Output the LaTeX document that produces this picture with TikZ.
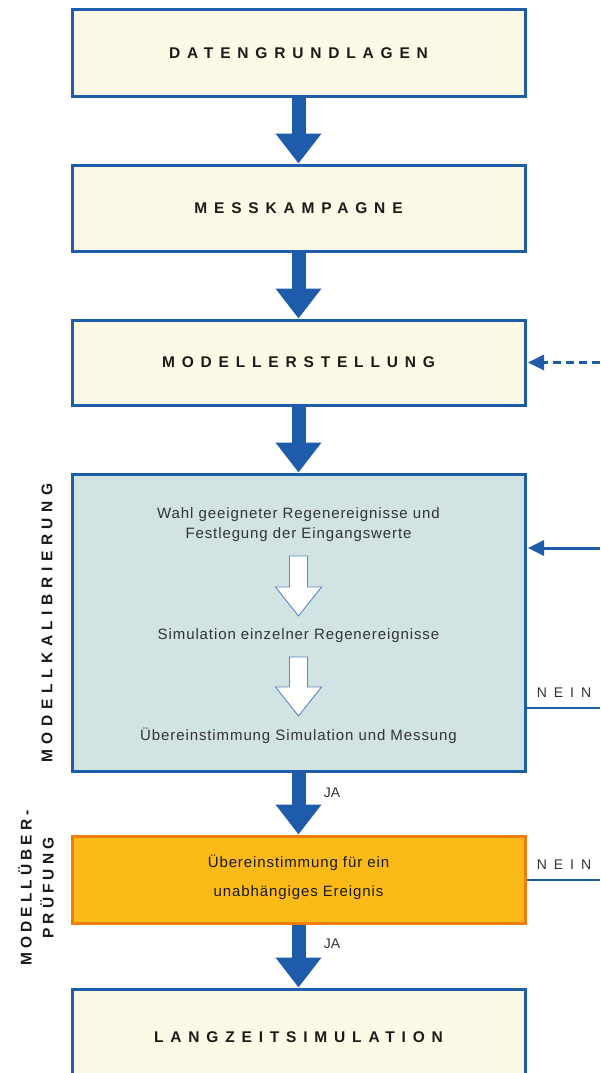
\documentclass[tikz,border=0pt]{standalone}
\usepackage{fontspec}
\setmainfont{Liberation Sans}
\newfontfamily\ttlfont[LetterSpace=44]{Liberation Sans}
\newfontfamily\sidefont[LetterSpace=36]{Liberation Sans}
\newfontfamily\sidefontb[LetterSpace=26]{Liberation Sans}
\newfontfamily\bodyfont[LetterSpace=6]{Liberation Sans}
\newfontfamily\neinfont[LetterSpace=50]{Liberation Sans}
\usetikzlibrary{arrows.meta}
\definecolor{bblue}{HTML}{1F5DAA}
\definecolor{ablue}{HTML}{1E5BAA}
\definecolor{cream}{HTML}{FCFAE6}
\definecolor{calib}{HTML}{D1E3E3}
\definecolor{ofill}{HTML}{FBBA18}
\definecolor{oline}{HTML}{EE7D0A}
\definecolor{hollow}{HTML}{5B85C8}
\definecolor{txt}{HTML}{1A1A1A}
\definecolor{btxt}{HTML}{333333}
\tikzset{
  box/.style={draw=bblue, line width=3pt, fill=cream, minimum width=453pt, inner sep=0pt},
  title/.style={font=\ttlfont\bfseries\fontsize{15.5}{17}\selectfont, text=txt},
  flow/.style={draw=ablue, line width=14pt, -{Triangle[width=44pt,length=30pt]}},
  side/.style={draw=ablue, line width=3pt, -{Triangle[width=15pt,length=16pt]}},
  body/.style={font=\bodyfont\fontsize{15}{20}\selectfont, text=btxt, align=center, inner sep=0pt},
  hollowarrow/.style={draw=hollow, line width=0.9pt, fill=white},
  sidelabel/.style={text=txt, rotate=90, align=center, inner sep=0pt},
  nein/.style={font=\neinfont\fontsize{14}{16}\selectfont, text=btxt, inner sep=0pt},
  ja/.style={font=\fontsize{14}{16}\selectfont, text=btxt, inner sep=0pt},
  neinline/.style={draw=ablue, line width=2.5pt}
}
\begin{document}
\begin{tikzpicture}[x=1pt,y=-1pt]
\useasboundingbox (0,0) rectangle (600,1073);
% boxes
\node[box, minimum height=86pt, title] (b1) at (298.5,53) {DATENGRUNDLAGEN};
\node[box, minimum height=86pt, title] (b2) at (298.5,208) {MESSKAMPAGNE};
\node[box, minimum height=85pt, title] (b3) at (298.5,362.5) {MODELLERSTELLUNG};
\node[box, minimum height=297pt, fill=calib] (b4) at (298.5,622.5) {};
\node[box, minimum height=87pt, draw=oline, fill=ofill] (b5) at (298.5,879.5) {};
\node[box, minimum height=97pt, title] (b6) at (298.5,1037.5) {LANGZEITSIMULATION};
% main flow arrows
\draw[flow] (b1.south) -- (b2.north);
\draw[flow] (b2.south) -- (b3.north);
\draw[flow] (b3.south) -- (b4.north);
\draw[flow] (b4.south) -- (b5.north);
\draw[flow] (b5.south) -- (b6.north);
% JA labels
\node[ja] (ja1) at (332,793) {JA};
\node[ja] (ja2) at (332,944) {JA};
% calibration content
\node[body] (t1) at (298.5,525) {Wahl geeigneter Regenereignisse und\\Festlegung der Eingangswerte};
\node[body] (t2) at (298.5,636) {Simulation einzelner Regenereignisse};
\node[body] (t3) at (298.5,736) {Übereinstimmung Simulation und Messung};
\coordinate (h1) at (298.5,556);
\coordinate (h2) at (298.5,657);
\draw[hollowarrow] (h1) ++(-9,0) -- ++(18,0) -- ++(0,31) -- ++(14,0) -- ++(-23,29) -- ++(-23,-29) -- ++(14,0) -- cycle;
\draw[hollowarrow] (h2) ++(-9,0) -- ++(18,0) -- ++(0,30) -- ++(14,0) -- ++(-23,29) -- ++(-23,-29) -- ++(14,0) -- cycle;
% orange content
\node[body, font=\bodyfont\fontsize{15}{29}\selectfont, text=txt] (t5) at (298.5,877) {Übereinstimmung für ein\\unabhängiges Ereignis};
% side arrows and lines
\coordinate (d0) at (600,362.5);
\draw[side, dashed, dash pattern=on 8pt off 5pt] (d0) -- ([xshift=1.5pt]b3.east);
\coordinate (c0) at (600,548);
\draw[side] (c0) -- ([xshift=1.5pt]b4.east |- c0);
\coordinate (n1) at (600,708);
\draw[neinline] (b4.east |- n1) -- (n1);
\node[nein] (nein1) at (564,693) {NEIN};
\coordinate (n2) at (600,880);
\draw[neinline] (b5.east |- n2) -- (n2);
\node[nein] (nein2) at (564,865) {NEIN};
% left labels
\node[sidelabel, font=\sidefont\bfseries\fontsize{15.5}{18}\selectfont] (l1) at (47,623) {MODELLKALIBRIERUNG};
\node[sidelabel, font=\sidefontb\bfseries\fontsize{15.5}{22}\selectfont] (l2) at (36,888) {MODELLÜBER-\\PRÜFUNG};
\end{tikzpicture}
\end{document}
